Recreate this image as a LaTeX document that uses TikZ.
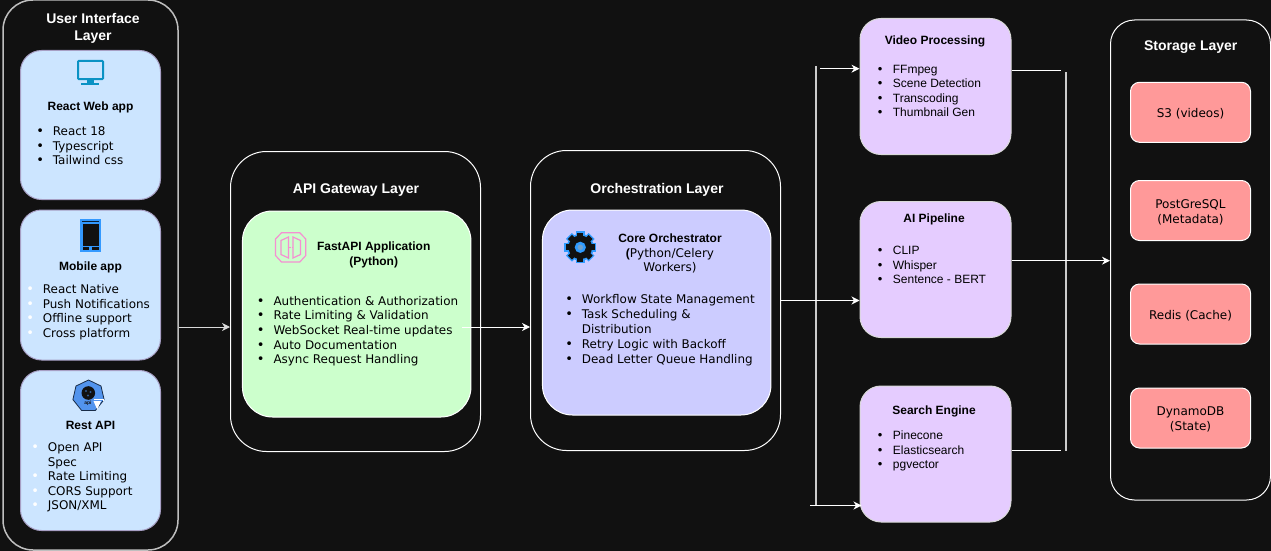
\documentclass[tikz,border=0pt]{standalone}
\usepackage{fontspec}
\setmainfont{Liberation Sans}
\newfontfamily\dv{DejaVu Sans}
\usetikzlibrary{arrows.meta,shapes.geometric,calc}
\definecolor{bg}{HTML}{111111}
\definecolor{uifill}{HTML}{CCE5FF}
\definecolor{uistroke}{HTML}{A79FC4}
\definecolor{gwfill}{HTML}{CCFFCC}
\definecolor{orfill}{HTML}{CCCCFF}
\definecolor{pipefill}{HTML}{E5CCFF}
\definecolor{stfill}{HTML}{FF9999}
\definecolor{monblue}{HTML}{0A92C4}
\definecolor{phoneblue}{HTML}{3399FF}
\definecolor{hexblue}{HTML}{5294EE}
\definecolor{fastpink}{HTML}{F58FD2}
\definecolor{gearblue}{HTML}{2F9BFF}
\newcommand{\li}[2][black]{\leavevmode\rule{0pt}{10pt}\llap{\makebox[0pt][c]{\textcolor{#1}{\fontsize{13}{13}\selectfont •}}\hspace{12.7pt}}#2}
\tikzset{
  layerbox/.style={draw=white,line width=1pt,fill=bg,rounded corners=30pt,inner sep=0pt},
  uibox/.style={draw=uistroke,line width=1pt,fill=uifill,rounded corners=21pt,minimum width=140pt,inner sep=0pt},
  mainbox/.style={draw=white,line width=1pt,rounded corners=30pt,inner sep=0pt},
  pipebox/.style={draw=white!85!black,line width=1pt,fill=pipefill,rounded corners=21pt,minimum width=151pt,minimum height=136pt,inner sep=0pt},
  stbox/.style={draw=white,line width=1pt,fill=stfill,rounded corners=9pt,minimum width=120pt,minimum height=60pt,inner sep=0pt,align=center,text=black,font=\fontsize{12}{15}\selectfont\dv,execute at begin node={\rule{0pt}{12.5pt}}},
  headw/.style={text=white,inner sep=0pt,align=center,yshift=-1.6pt,font=\fontsize{14}{17}\selectfont\bfseries},
  headb/.style={text=black,inner sep=0pt,align=center,yshift=-1.6pt,font=\fontsize{12}{14.6}\selectfont\bfseries},
  listd/.style={text=black,inner sep=0pt,anchor=north west,align=left,font=\fontsize{11.95}{14.6}\selectfont\dv},
  lists/.style={text=black,inner sep=0pt,anchor=north west,align=left,font=\fontsize{12}{14.5}\selectfont},
  conn/.style={draw=white,line width=1pt},
  arrowconn/.style={conn,-{Stealth[inset=2.5pt,length=8pt,width=8pt]}},
  bus/.style={draw=white!80!black,line width=2pt}
}
\begin{document}
\begin{tikzpicture}[x=1pt,y=-1pt]
\useasboundingbox (0,0) rectangle (1271,551);
\fill[bg] (0,0) rectangle (1271,551);

% layers
\node[layerbox,draw=white!75!black,line width=1.5pt,minimum width=175pt,minimum height=550pt] (uilayer) at (90.5,275) {};
\node[layerbox,minimum width=250pt,minimum height=300pt,rounded corners=36pt] (apilayer) at (355.5,301.5) {};
\node[layerbox,minimum width=250pt,minimum height=300pt,rounded corners=36pt] (orchlayer) at (655.5,300.5) {};
\node[layerbox,minimum width=160pt,minimum height=480pt,rounded corners=24pt] (storelayer) at (1190.5,260) {};

% UI layer
\node[headw] (uititle) at (93,26.5) {User Interface\\Layer};
\node[uibox,minimum height=149pt] (web) at (90.5,125) {};
\node[uibox,minimum height=150pt] (mobile) at (90.5,285) {};
\node[uibox,minimum height=160pt] (rest) at (90.5,450.5) {};

% monitor icon
\draw[monblue,line width=2pt,rounded corners=0.8pt] (78,61) rectangle (103,79);
\fill[monblue] (86.5,80) rectangle (94,83.5);
\fill[monblue] (81,83.3) rectangle (99,85.2);
\node[headb] (webtitle) at (90.5,105.5) {React Web app};
\node[listd] (weblist) at (52.7,125.5) {\li{React 18}\\\li{Typescript}\\\li{Tailwind css}};

% phone icon
\fill[phoneblue] (80.3,219.3) rectangle (100.7,251.7);
\fill[black!80!phoneblue] (82,220.5) rectangle (99,221.5);
\fill[bg] (82.5,223.5) rectangle (98.5,245.5);
\fill[bg] (82.5,247) rectangle (89,249.5);
\fill[bg] (92,247) rectangle (98.5,249.5);
\node[headb] (mobtitle) at (90.5,265.5) {Mobile app};
\node[listd] (moblist) at (42.7,283.5) {\li[white]{React Native}\\\li[white]{Push Notifications}\\\li[white]{Offline support}\\\li[white]{Cross platform}};

% api icon
\node[regular polygon,regular polygon sides=7,minimum size=32pt,inner sep=0pt,fill=hexblue,draw=black!70!hexblue,line width=0.8pt] (hexicon) at (88.5,396) {};
\fill[bg] (88.3,393) circle (6.8);
\fill[hexblue!60!black] (86,391) circle (1.2) (90.5,392) circle (1.2) (88,395.5) circle (1.2);
\node[inner sep=0pt,text=bg,font=\fontsize{5}{5}\selectfont\bfseries] (hexlabel) at (88,403.3) {api};
\draw[white,line width=0.8pt] (94,399.5) -- (103,399.5) -- (103,401);
\fill[white] (93.5,401) -- (101,401) -- (97.2,409.5) -- cycle;
\node[headb] (resttitle) at (90.5,424) {Rest API};
\node[listd] (restlist) at (47.7,441.3) {\li[white]{Open API}\\Spec\\\li[white]{Rate Limiting}\\\li[white]{CORS Support}\\\li[white]{JSON/XML}};

% API gateway
\node[headw] (apititle) at (356,188) {API Gateway Layer};
\node[mainbox,fill=gwfill,minimum width=228.5pt,minimum height=206pt] (fast) at (356.7,314) {};
\begin{scope}[fastpink,line width=1.2pt,line join=miter]
\draw (281.5,232.8) -- (299.8,232.8) -- (305.8,239) -- (305.8,255.5) -- (299.8,262) -- (281.5,262) -- (275.5,255.5) -- (275.5,239) -- cycle;
\draw (288.5,237) -- (281,240.5) -- (281,254.5) -- (288.5,258) -- cycle;
\draw (293,237) -- (300.5,240.5) -- (300.5,254.5) -- (293,258) -- cycle;
\draw[densely dotted,line width=0.7pt] (288.5,247.5) -- (293,247.5);
\end{scope}
\node[headb] (fasttitle) at (373.7,253.3) {FastAPI Application\\(Python)};
\node[listd] (fastlist) at (273.3,295) {\li{Authentication \& Authorization}\\\li{Rate Limiting \& Validation}\\\li{WebSocket Real-time updates}\\\li{Auto Documentation}\\\li{Async Request Handling}};

% Orchestration
\node[headw] (orchtitle) at (657,188) {Orchestration Layer};
\node[mainbox,fill=orfill,minimum width=228.5pt,minimum height=205pt] (core) at (656.7,312.5) {};
\begin{scope}[shift={(580.3,247.3)}]
\foreach \a in {0,45,90,135}{\fill[gearblue,rotate=\a] (-4.2,-16) rectangle (4.2,16);}
\fill[gearblue] (0,0) circle (13.5);
\foreach \a in {0,45,90,135}{\fill[bg,rotate=\a] (-2.9,-14.6) rectangle (2.9,14.6);}
\fill[bg] (0,0) circle (11.8);
\fill[gearblue] (0,0) circle (5.6);
\fill[gearblue!55!white!80!black] (0,0) circle (2.8);
\end{scope}
\node[inner sep=0pt,text=black,align=center,font=\fontsize{12}{14.5}\selectfont\dv] (coretitle) at (670,253.7) {{\rmfamily\bfseries Core Orchestrator}\\{\rmfamily\bfseries (}Python/Celery\\Workers)};
\node[listd,font=\fontsize{11.95}{15}\selectfont\dv] (corelist) at (581.7,293) {\li{Workflow State Management}\\\li{Task Scheduling \&}\\Distribution\\\li{Retry Logic with Backoff}\\\li{Dead Letter Queue Handling}};

% pipeline boxes
\node[pipebox] (video) at (935.5,86.5) {};
\node[headb] (videotitle) at (935,39.7) {Video Processing};
\node[lists] (videolist) at (892.7,63) {\li{FFmpeg}\\\li{Scene Detection}\\\li{Transcoding}\\\li{Thumbnail Gen}};
\node[pipebox] (ai) at (935.5,269.5) {};
\node[headb] (aititle) at (934,217.7) {AI Pipeline};
\node[lists] (ailist) at (892.7,244.7) {\li{CLIP}\\\li{Whisper}\\\li{Sentence - BERT}};
\node[pipebox] (search) at (935.5,454) {};
\node[headb] (searchtitle) at (934,409.7) {Search Engine};
\node[lists] (searchlist) at (892.7,429.7) {\li{Pinecone}\\\li{Elasticsearch}\\\li{pgvector}};

% storage
\node[headw] (storetitle) at (1190.7,45.7) {Storage Layer};
\node[stbox] (s3) at (1190.5,112.3) {S3 (videos)};
\node[stbox] (pg) at (1190.5,210.5) {\rule{0pt}{12.5pt}PostGreSQL\\(Metadata)};
\node[stbox] (redis) at (1190.5,314) {Redis (Cache)};
\node[stbox] (dyn) at (1190.5,418) {\rule{0pt}{12.5pt}DynamoDB\\(State)};

% connectors
\coordinate (busin) at (815.5,66);
\coordinate (businb) at (815.5,505.5);
\coordinate (busout) at (1065.5,72);
\coordinate (busoutb) at (1065.5,451);
\draw[bus] (busin) -- (businb);
\draw[bus] (busout) -- (busoutb);
\draw[arrowconn,draw=white!85!black] (uilayer.east |- 0,327) -- (apilayer.west |- 0,327);
\draw[arrowconn] ($(fast.east |- 0,327)+(-9,0)$) -- (orchlayer.west |- 0,327);
\draw[arrowconn] (orchlayer.east |- 0,300.5) -- (ai.west |- 0,300.5);
\draw[arrowconn] ($(busin |- 0,68.7)+(4.5,0)$) -- (video.west |- 0,68.7);
\draw[arrowconn] ($(businb)+(-5.5,0)$) -- ($(search.west |- businb)+(2,0)$);
\draw[conn] (video.east |- 0,70.5) -- ($(busout |- 0,70.5)+(-5,0)$);
\draw[conn] (search.east |- 0,450.5) -- ($(busout |- 0,450.5)+(-5,0)$);
\draw[arrowconn] (ai.east |- 0,260.7) -- (storelayer.west |- 0,260.7);
\end{tikzpicture}
\end{document}
